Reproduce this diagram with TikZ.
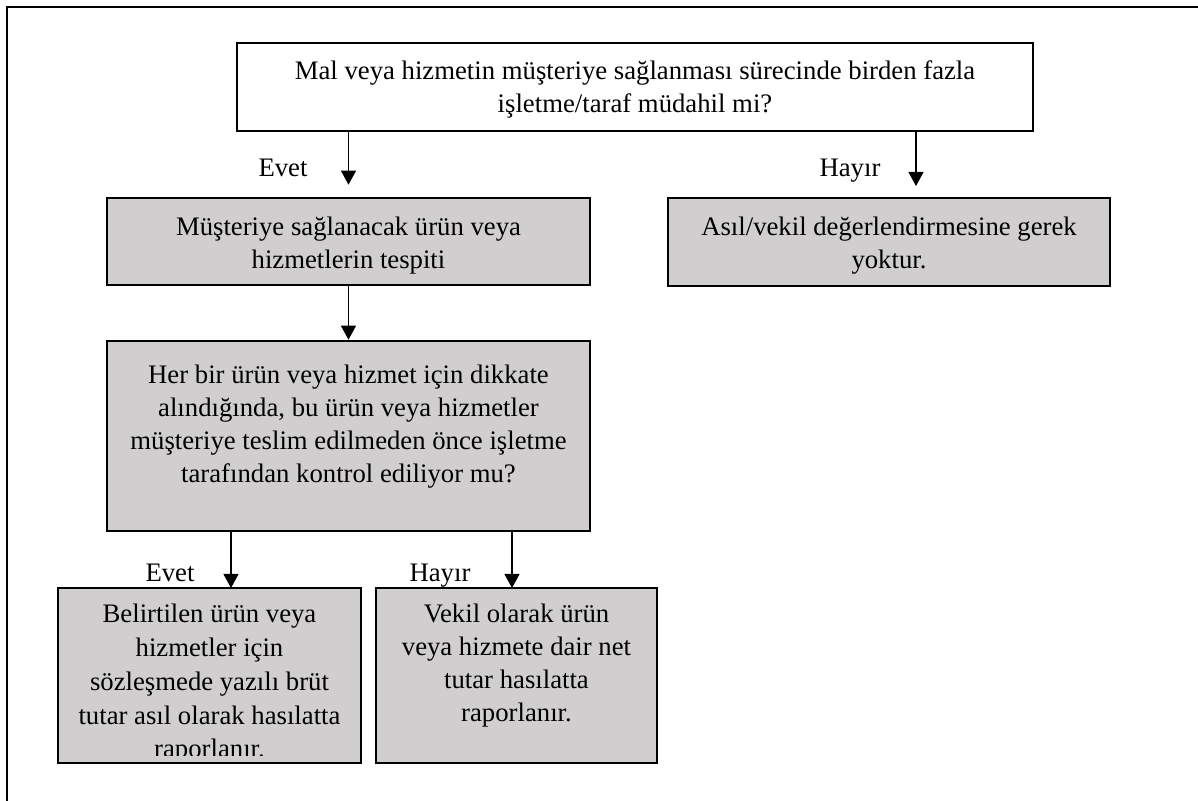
\documentclass[tikz,border=0pt]{standalone}
\usepackage{fontspec}
\setmainfont{Liberation Serif}
\usetikzlibrary{arrows.meta, positioning}

\definecolor{kutuGri}{RGB}{208,206,206}

\begin{document}
\begin{tikzpicture}[x=0.025cm, y=-0.025cm,
    kutu/.style={draw=black, line width=1.9pt, fill=white, inner sep=0pt},
    griKutu/.style={kutu, fill=kutuGri},
    yazi/.style={align=center, inner sep=0pt, font=\fontsize{19}{23.5}\selectfont},
    etiket/.style={anchor=base, inner sep=0pt, font=\fontsize{19}{23.5}\selectfont},
    oku/.style={-{Triangle[width=10.7pt, length=10pt]}, line width=0.9pt}]
        % --- ölçüler (piksel) ---
        \def\px{0.025cm}

        % --- dış çerçeve ---
        \useasboundingbox (0,0) rectangle (1198,801);
        \draw[line width=2.1pt] (7,801) -- (7,7) -- (1198,7);

        % --- kutular ---
        \node[kutu, minimum width=796*\px, minimum height=88*\px] (soru) at (635,87) {};
        \node[griKutu, minimum width=483*\px, minimum height=87*\px] (tespit) at (348.5,241.5) {};
        \node[griKutu, minimum width=442*\px, minimum height=88*\px] (gerekYok) at (889,242) {};
        \node[griKutu, minimum width=483*\px, minimum height=190*\px] (kontrol) at (348.5,436) {};
        \node[griKutu, minimum width=303*\px, minimum height=175*\px] (asil) at (209.5,675.5) {};
        \node[griKutu, minimum width=281*\px, minimum height=175*\px] (vekil) at (516.5,675.5) {};

        % --- kutu yazıları ---
        \node[yazi] (soruYazi) at (635,89) {Mal veya hizmetin müşteriye sağlanması sürecinde birden fazla\\ işletme/taraf müdahil mi?};
        \node[yazi] (tespitYazi) at (348.5,246) {Müşteriye sağlanacak ürün veya\\ hizmetlerin tespiti};
        \node[yazi] (gerekYokYazi) at (889,246) {Asıl/vekil değerlendirmesine gerek\\ yoktur.};
        \node[yazi] (kontrolYazi) at (348.5,427) {Her bir ürün veya hizmet için dikkate\\ alındığında, bu ürün veya hizmetler\\ müşteriye teslim edilmeden önce işletme\\ tarafından kontrol ediliyor mu?};
        \begin{scope}
            \clip (58,588) rectangle (361,755);
            \node[yazi, font=\fontsize{19}{24}\selectfont] (asilYazi) at (209.5,684) {Belirtilen ürün veya\\ hizmetler için\\ sözleşmede yazılı brüt\\ tutar asıl olarak hasılatta\\ raporlanır.};
        \end{scope}
        \node[yazi] (vekilYazi) at (516.5,666) {Vekil olarak ürün\\ veya hizmete dair net\\ tutar hasılatta\\ raporlanır.};

        % --- oklar ---
        \coordinate (hayirUc) at (916,186);
        \coordinate (asilUc) at (231,588);
        \coordinate (vekilUc) at (512,588);
        \draw[oku, shorten >=12*\px] (soru.south -| tespit.north) -- (tespit.north);
        \draw[oku] (soru.south -| hayirUc) -- (hayirUc);
        \draw[oku] (tespit.south) -- (kontrol.north);
        \draw[oku] (kontrol.south -| asilUc) -- (asilUc);
        \draw[oku] (kontrol.south -| vekilUc) -- (vekilUc);

        % --- etiketler ---
        \node[etiket] (evetBir) at (283,177) {Evet};
        \node[etiket] (hayirBir) at (850,177) {Hayır};
        \node[etiket] (evetIki) at (170,581) {Evet};
        \node[etiket] (hayirIki) at (440,581) {Hayır};
\end{tikzpicture}
\end{document}
